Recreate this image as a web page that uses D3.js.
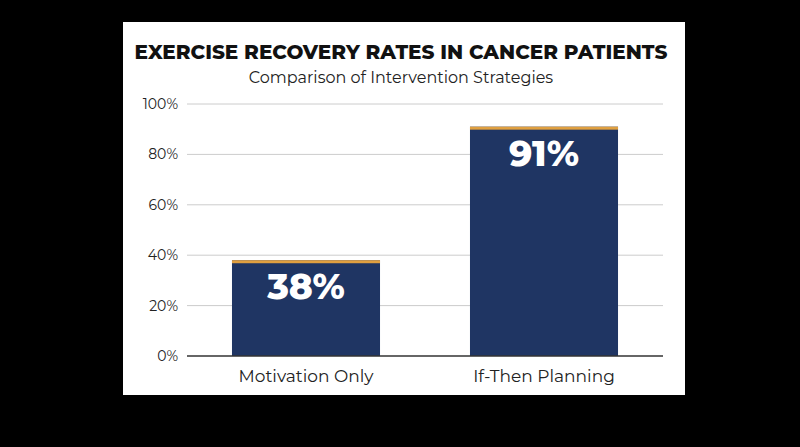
<!DOCTYPE html><html><head><meta charset="utf-8"><script src="https://d3js.org/d3.v7.min.js"></script>
<style>body{margin:0;background:#000}</style></head><body><svg width="800" height="447"></svg>
<script>
const categories=["Motivation Only","If-Then Planning"];
const values=[38,91];
const ticks=[0,20,40,60,80,100];
const svg=d3.select("svg");
svg.append("rect").attr("width",800).attr("height",447).attr("fill","#000");
svg.append("rect").attr("x",123).attr("y",22).attr("width",562).attr("height",373).attr("fill","#fff");
const x=d3.scaleBand().domain(categories).range([187,663]).paddingInner(0.378).paddingOuter(0.189);
const y=d3.scaleLinear().domain([0,100]).range([356,104]);
const font="Montserrat, 'Open Sans', Arial, sans-serif";
svg.append("text").attr("x",401).attr("y",59).attr("text-anchor","middle").attr("font-family",font).attr("font-weight",800).attr("font-size",20).attr("fill","#111").text("EXERCISE RECOVERY RATES IN CANCER PATIENTS");
svg.append("text").attr("x",401).attr("y",83).attr("text-anchor","middle").attr("font-family",font).attr("font-size",16).attr("fill","#222").text("Comparison of Intervention Strategies");
const g=svg.append("g");
ticks.forEach(t=>{
 if(t>0) g.append("line").attr("x1",187).attr("x2",663).attr("y1",y(t)).attr("y2",y(t)).attr("stroke","#ccc");
 g.append("text").attr("x",178).attr("y",y(t)+5).attr("text-anchor","end").attr("font-family",font).attr("font-size",14).attr("fill","#222").text(t+"%");
});
categories.forEach((c,i)=>{
 g.append("rect").attr("x",x(c)).attr("y",y(values[i])).attr("width",x.bandwidth()).attr("height",y(0)-y(values[i])).attr("fill","#1f3563");
 g.append("rect").attr("x",x(c)).attr("y",y(values[i])).attr("width",x.bandwidth()).attr("height",3).attr("fill","#e0a040");
 g.append("text").attr("x",x(c)+x.bandwidth()/2).attr("y",y(values[i])+39).attr("text-anchor","middle").attr("font-family",font).attr("font-weight",800).attr("font-size",36).attr("fill","#fff").text(values[i]+"%");
 g.append("text").attr("x",x(c)+x.bandwidth()/2).attr("y",382).attr("text-anchor","middle").attr("font-family",font).attr("font-size",17).attr("fill","#222").text(c);
});
g.append("line").attr("x1",187).attr("x2",663).attr("y1",356).attr("y2",356).attr("stroke","#333").attr("stroke-width",1.5);
</script></body></html>
